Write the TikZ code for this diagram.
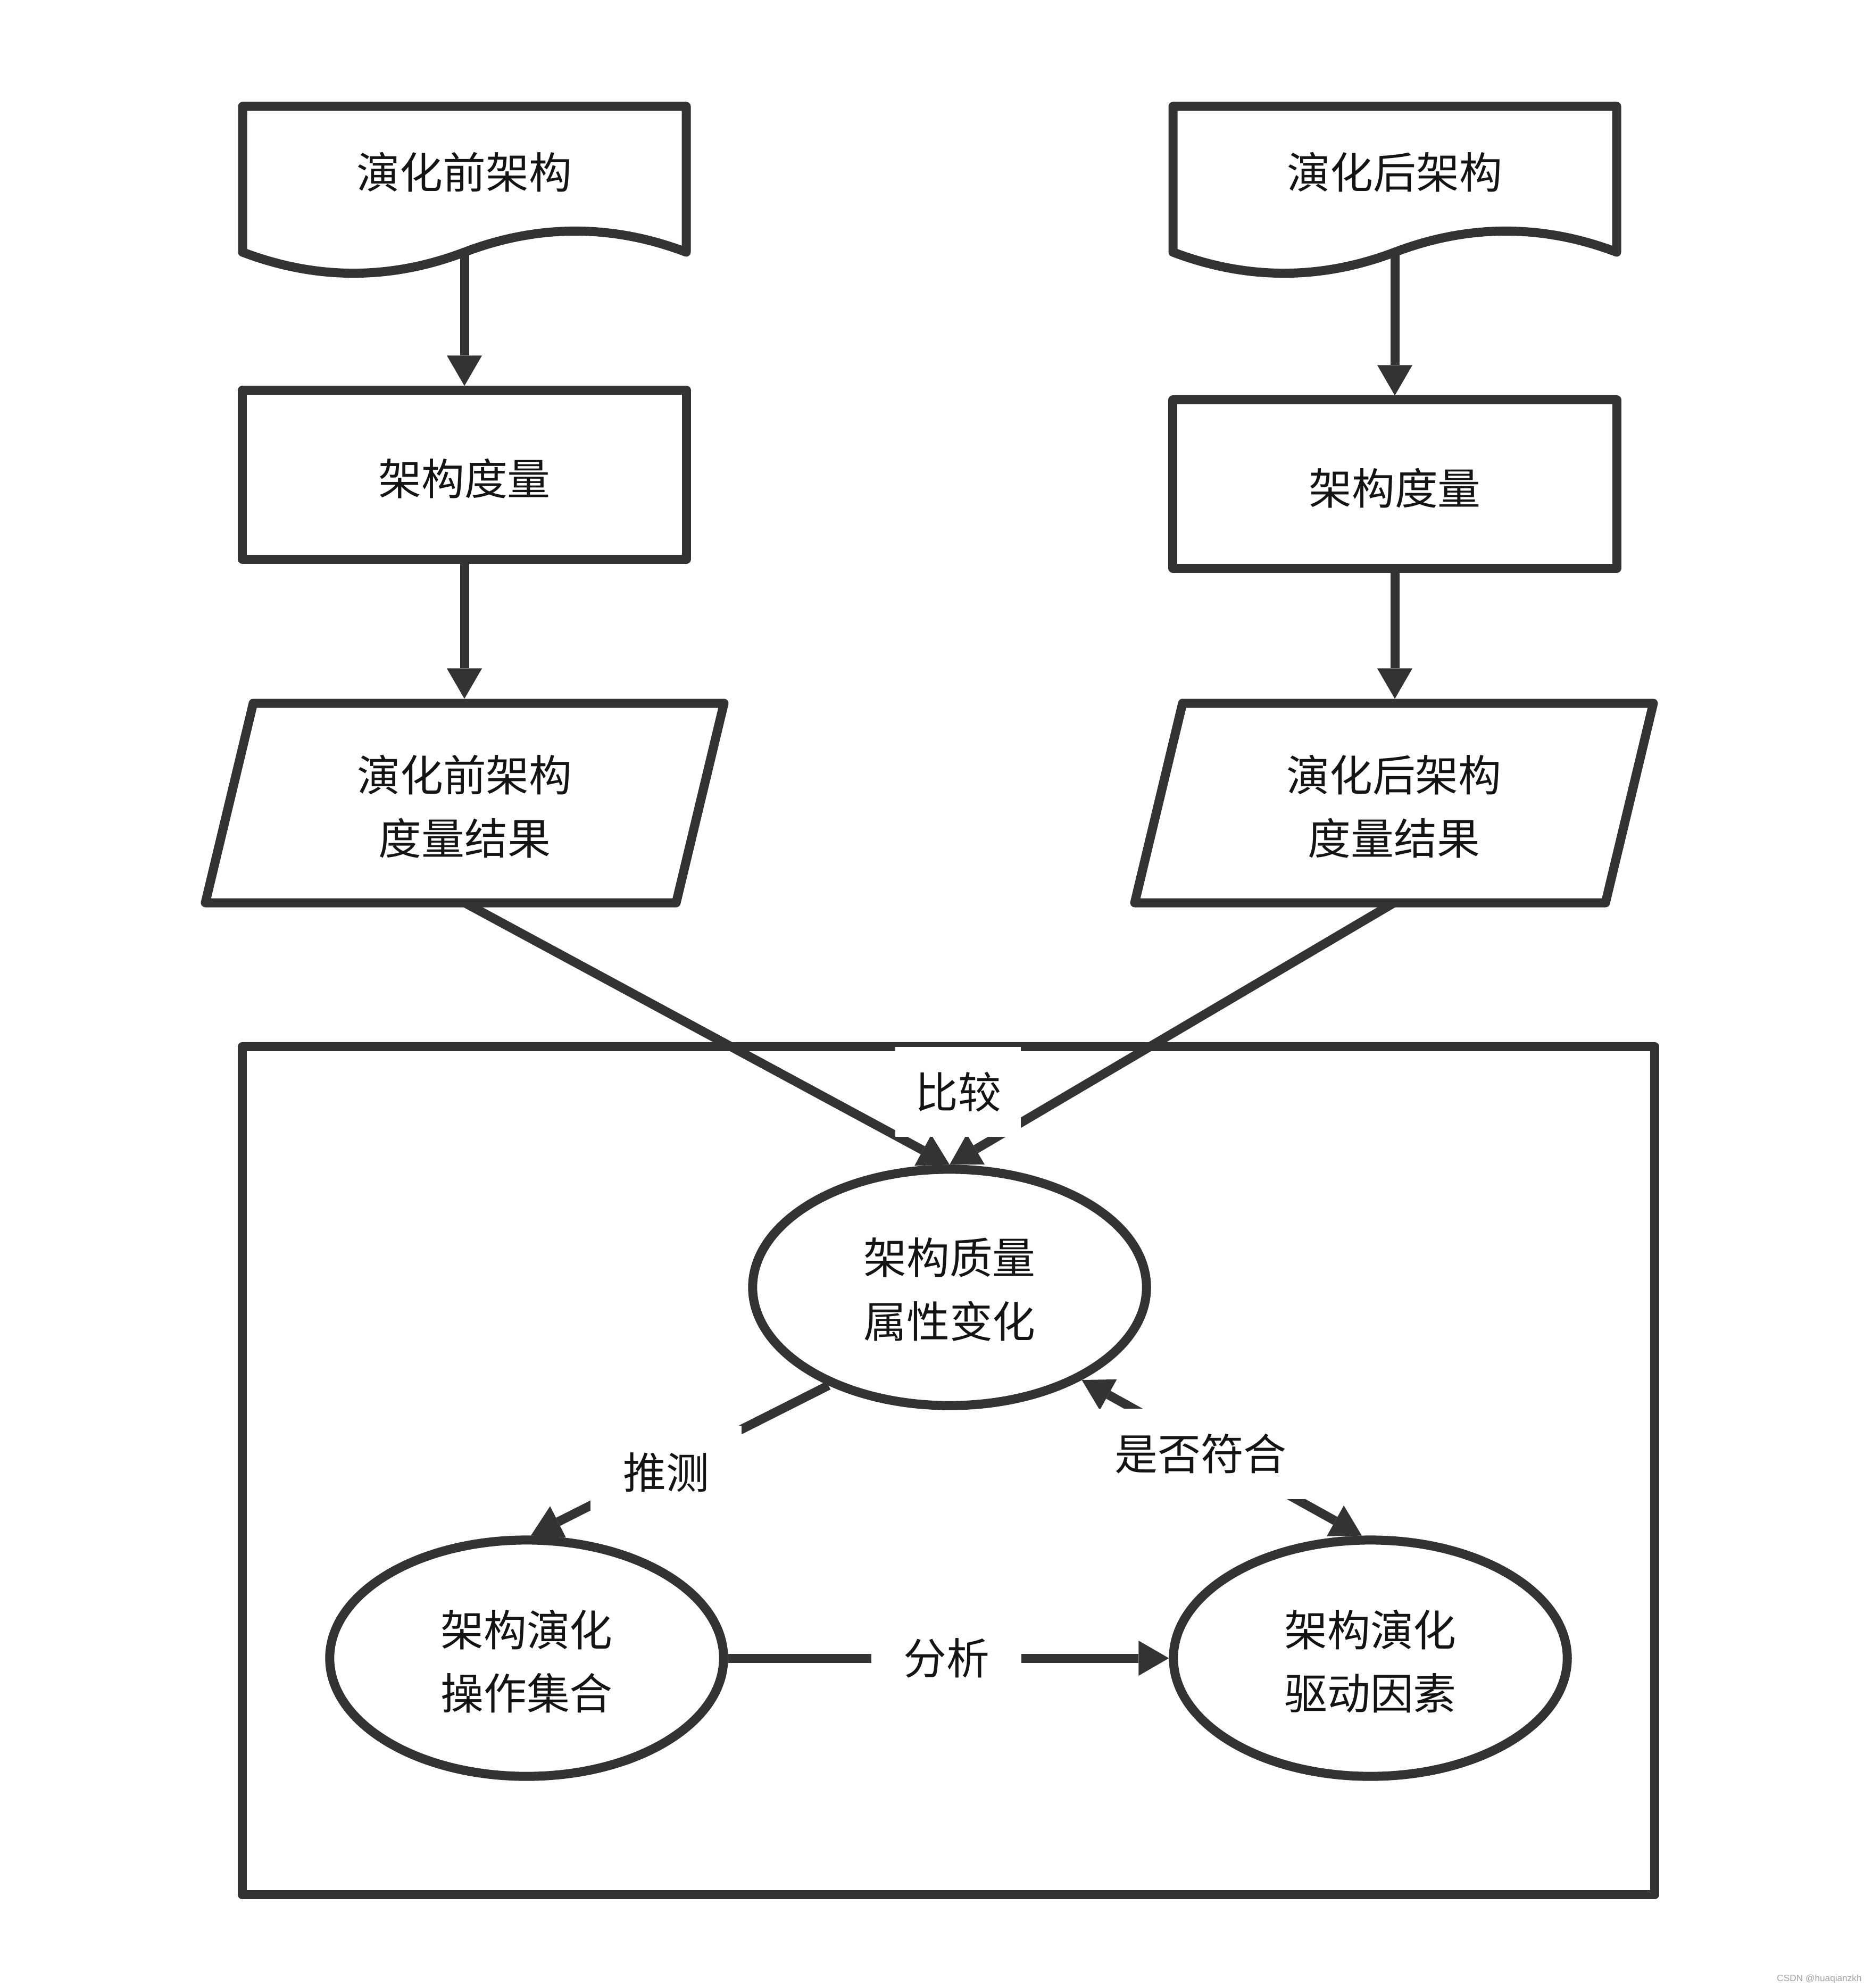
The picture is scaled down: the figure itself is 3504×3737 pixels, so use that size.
\documentclass[tikz,border=0pt]{standalone}
\usepackage{fontspec}
\setmainfont{Noto Sans CJK SC}
\newfontfamily\wmfont{Liberation Sans}
\usetikzlibrary{arrows.meta,shapes.geometric}
\definecolor{lc}{HTML}{333333}
\definecolor{tc}{HTML}{141414}
\definecolor{wmc}{HTML}{A0A0A0}
\tikzset{
  shp/.style={draw=lc, line width=0.17cm, line join=round, fill=white},
  boxnode/.style={shp, rectangle, inner sep=0pt},
  ellnode/.style={shp, ellipse, inner sep=0pt, minimum width=7.40cm, minimum height=4.44cm},
  frm/.style={draw=lc, line width=0.17cm, line join=round, rectangle, inner sep=0pt},
  tipA/.tip={Triangle[length=0.57cm, width=0.66cm, line width=0pt]},
  arr/.style={draw=lc, line width=0.17cm, -tipA},
  arrboth/.style={draw=lc, line width=0.17cm, tipA-tipA},
  txt/.style={text=tc, font=\fontsize{23}{34}\selectfont, align=center, inner sep=0pt},
  lbl/.style={fill=white, text=tc, font=\fontsize{23}{34}\selectfont, inner sep=0pt},
}
\begin{document}
\begin{tikzpicture}[x=0.01cm, y=-0.01cm]
\useasboundingbox (0,0) rectangle (3504,3737);

% documents
\draw[shp] (456,474) -- (456,200) -- (1290,200) -- (1290,474)
  .. controls (1151,421.2) and (1012,421.2) .. (873,474)
  .. controls (734,526.8) and (595,526.8) .. (456,474) -- cycle;
\draw[shp] (2205,474) -- (2205,200) -- (3039,200) -- (3039,474)
  .. controls (2900,421.2) and (2761,421.2) .. (2622,474)
  .. controls (2483,526.8) and (2344,526.8) .. (2205,474) -- cycle;
\coordinate (d1b) at (873,474);
\coordinate (d2b) at (2622,474);
\node[txt] (d1t) at (873,324) {演化前架构};
\node[txt] (d2t) at (2622,324) {演化后架构};

% measurement boxes
\node[boxnode, minimum width=8.34cm, minimum height=3.17cm] (r1) at (873,892.5) {};
\node[boxnode, minimum width=8.34cm, minimum height=3.16cm] (r2) at (2622,910) {};
\node[txt] (r1t) at (873,900) {架构度量};
\node[txt] (r2t) at (2622,918) {架构度量};

% parallelograms
\draw[shp] (386,1697) -- (1271,1697) -- (1361,1322) -- (476,1322) -- cycle;
\draw[shp] (2133,1697) -- (3018,1697) -- (3108,1322) -- (2223,1322) -- cycle;
\coordinate (p1t) at (873,1313.5);
\coordinate (p2t) at (2622,1313.5);
\coordinate (p1b) at (873.5,1697);
\coordinate (p2b) at (2620.5,1697);
\node[txt] (p1x) at (873.5,1516) {演化前架构\\度量结果};
\node[txt] (p2x) at (2620.5,1516) {演化后架构\\度量结果};

% frame
\node[frm, minimum width=26.54cm, minimum height=15.93cm] (frame) at (1783,2764.5) {};

% ellipses
\node[ellnode] (Q) at (1785,2420) {};
\node[ellnode] (O) at (990,3117) {};
\node[ellnode] (D) at (2576,3117) {};
\node[txt] (Qt) at (1785,2424) {架构质量\\属性变化};
\node[txt] (Ot) at (990,3123) {架构演化\\操作集合};
\node[txt] (Dt) at (2576,3123) {架构演化\\驱动因素};

% connectors
\draw[arr] (d1b) -- (r1.north);
\draw[arr] (d2b) -- (r2.north);
\draw[arr] (r1.south) -- (p1t);
\draw[arr] (r2.south) -- (p2t);
\draw[arr] (p1b) -- (Q.north);
\draw[arr] (p2b) -- (Q.north);
\draw[arr] (Q.219.1) -- (O.88);
\draw[arrboth] (Q.325.5) -- (D.94);
\draw[arr] (O.east) -- (D.west);

% edge labels
\node[lbl, minimum width=2.36cm, minimum height=1.69cm] (L1) at (1801,2052.5) {\raisebox{-0.06cm}{比较}};
\node[lbl, minimum width=2.83cm, minimum height=1.75cm] (L2) at (1252,2768) {\raisebox{-0.04cm}{推测}};
\node[lbl, minimum width=4.43cm, minimum height=1.70cm] (L3) at (2257,2733) {\raisebox{-0.07cm}{是否符合}};
\node[lbl, minimum width=2.82cm, minimum height=1.69cm] (L4) at (1779,3117) {\raisebox{-0.05cm}{分析}};

% watermark
\node[text=wmc, font=\wmfont\fontsize{4.9}{6}\selectfont, inner sep=0pt] (wm) at (3420,3720) {CSDN @huaqianzkh};
\end{tikzpicture}
\end{document}
